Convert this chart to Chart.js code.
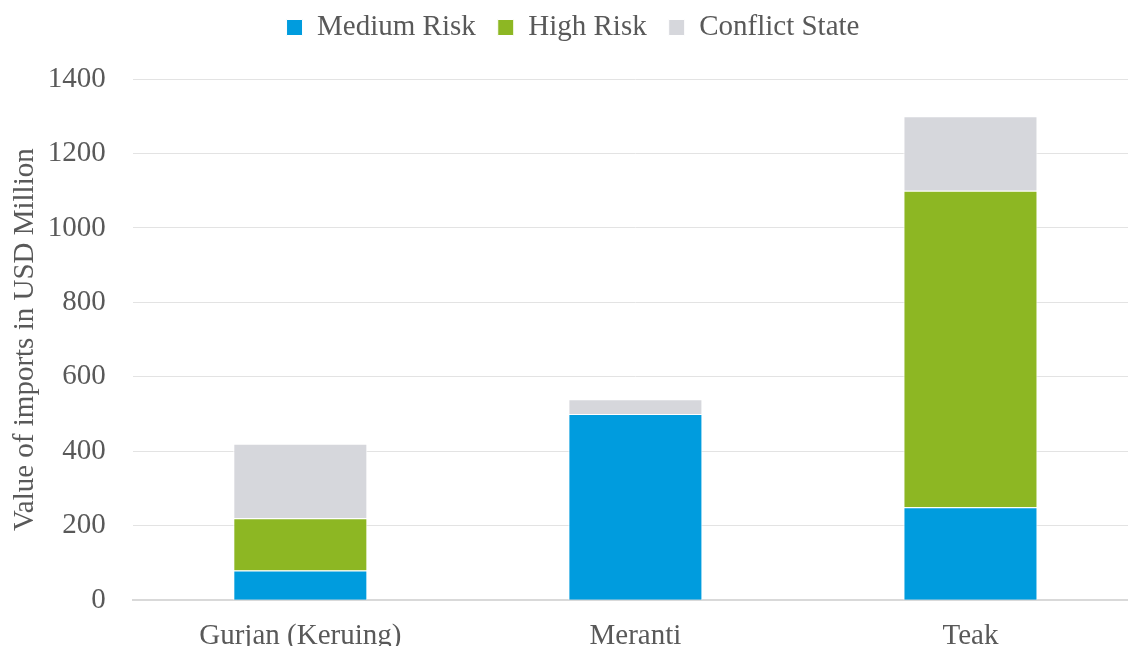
<!DOCTYPE html>
<html>
<head>
<meta charset="utf-8">
<script src="https://cdn.jsdelivr.net/npm/chart.js@4"></script>
<style>
  html, body { margin: 0; padding: 0; background: #fff; overflow: hidden; }
  #wrap { width: 1140px; height: 665px; position: relative; }
</style>
</head>
<body>
<div id="wrap"><canvas id="myChart"></canvas></div>
<script>
const categories = ['Gurjan (Keruing)', 'Meranti', 'Teak'];
const mediumRisk = [80, 500, 250];
const highRisk = [140, 0, 850];
const conflictState = [200, 40, 200];
const yTicks = [0, 200, 400, 600, 800, 1000, 1200, 1400];

const textColor = '#595959';
const fontFamily = '"Liberation Serif", "Times New Roman", serif';
const fontSize = 29;

// extra space under the legend
const legendGap = {
  id: 'legendGap',
  beforeInit(chart) {
    const fit = chart.legend.fit;
    chart.legend.fit = function () {
      fit.bind(chart.legend)();
      this.height += 27;
    };
  }
};

window.onload = function () {
  const ctx = document.getElementById('myChart').getContext('2d');

  new Chart(ctx, {
    type: 'bar',
    data: {
      labels: categories,
      datasets: [
        { label: 'Medium Risk', data: mediumRisk, backgroundColor: '#009cde', borderColor: '#ffffff', borderWidth: 1 },
        { label: 'High Risk', data: highRisk, backgroundColor: '#8db723', borderColor: '#ffffff', borderWidth: 1 },
        { label: 'Conflict State', data: conflictState, backgroundColor: '#d6d7dc', borderColor: '#ffffff', borderWidth: 1 }
      ]
    },
    plugins: [legendGap],
    options: {
      responsive: true,
      maintainAspectRatio: false,
      animation: false,
      datasets: { bar: { categoryPercentage: 1, barPercentage: 0.4 } },
      layout: { padding: { top: -9, left: 8, right: 2, bottom: 0 } },
      plugins: {
        tooltip: { enabled: false },
        legend: {
          position: 'top',
          labels: {
            color: textColor,
            font: { family: fontFamily, size: fontSize },
            boxWidth: 16,
            boxHeight: 16,
            padding: 22
          }
        }
      },
      scales: {
        x: {
          stacked: true,
          grid: { display: false },
          border: { color: '#d9d9d9', width: 2 },
          ticks: { color: textColor, font: { family: fontFamily, size: fontSize }, padding: 11, maxRotation: 0 }
        },
        y: {
          stacked: true,
          min: 0,
          max: 1400,
          afterBuildTicks: (axis) => { axis.ticks = yTicks.map(v => ({ value: v })); },
          grid: { color: '#e3e3e3', lineWidth: 1, drawTicks: false },
          border: { display: false },
          ticks: { color: textColor, font: { family: fontFamily, size: fontSize }, padding: 27, callback: (v) => String(v) },
          title: {
            display: true,
            text: 'Value of imports in USD Million',
            color: textColor,
            font: { family: fontFamily, size: fontSize },
            padding: { top: 0, bottom: -22 }
          }
        }
      }
    }
  });
};
</script>
</body>
</html>
